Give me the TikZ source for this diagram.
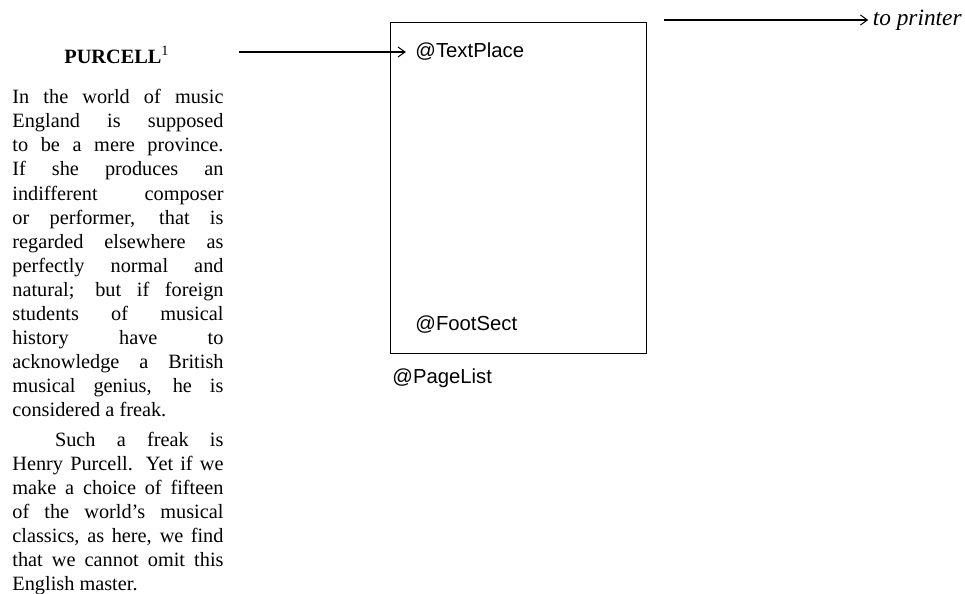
\documentclass[tikz,border=0pt]{standalone}
\usepackage{fontspec}
\setmainfont{Liberation Serif}
\setsansfont{Liberation Sans}
\usetikzlibrary{arrows.meta}

\newcommand*{\colW}{104pt}
\newcommand*{\colX}{12}

\tikzset{
    lbl/.style={font=\sffamily\fontsize{10}{12}\selectfont, inner sep=0pt},
    arr/.style={-{Straight Barb[length=3.5pt,width=5pt]}, line width=0.5pt},
}

\begin{document}
\begin{tikzpicture}[x=0.4926pt,y=-0.4926pt]
    \useasboundingbox (0,0) rectangle (965,593);

%   the column of text on the left
    \node[anchor=base, inner sep=0pt, font=\fontsize{10}{12}\selectfont]
        (title) at (117,63) {\textbf{PURCELL}\textsuperscript{1}};
    \node[anchor=north west, inner sep=0pt, text width=\colW, align=justify,
          font=\fontsize{10}{11.87}\selectfont] (column) at (\colX,89) {%
        \hyphenpenalty=10000 \tolerance=10000 \parskip=2.5pt \parindent=21pt
        \noindent In the world of music\linebreak
        England is supposed\linebreak
        to be a mere province.\linebreak
        If she produces an\linebreak
        indifferent composer\linebreak
        or performer, that is\linebreak
        regarded elsewhere as\linebreak
        perfectly normal and\linebreak
        natural; but if foreign\linebreak
        students of musical\linebreak
        history have to\linebreak
        acknowledge a British\linebreak
        musical genius, he is\linebreak
        considered a freak.\par
        Such a freak is\linebreak
        Henry Purcell. Yet if we\linebreak
        make a choice of fifteen\linebreak
        of the world's musical\linebreak
        classics, as here, we find\linebreak
        that we cannot omit this\linebreak
        English master.\par};

%   the page
    \node[draw, line width=0.5pt, anchor=north west, inner sep=0pt,
          minimum width=256*0.4926pt, minimum height=331*0.4926pt] (page) at (390,22) {};
    \node[lbl, anchor=west] (textplace) at (415,52) {@TextPlace};
    \node[lbl, anchor=west] (footsect) at (415,325) {@FootSect};
    \node[lbl, anchor=west] (pagelist) at (392,378) {@PageList};

%   arrows in and out
    \coordinate (src) at (239,52);
    \draw[arr, shorten >=4.5pt] (src) -- (src -| textplace.west);

    \node[anchor=base east, inner sep=0pt, font=\itshape\fontsize{11.5}{14}\selectfont]
        (printer) at (962,25) {to printer};
    \coordinate (out) at (664,20);
    \draw[arr, shorten >=2pt] (out) -- (out -| printer.west);

\end{tikzpicture}
\end{document}
